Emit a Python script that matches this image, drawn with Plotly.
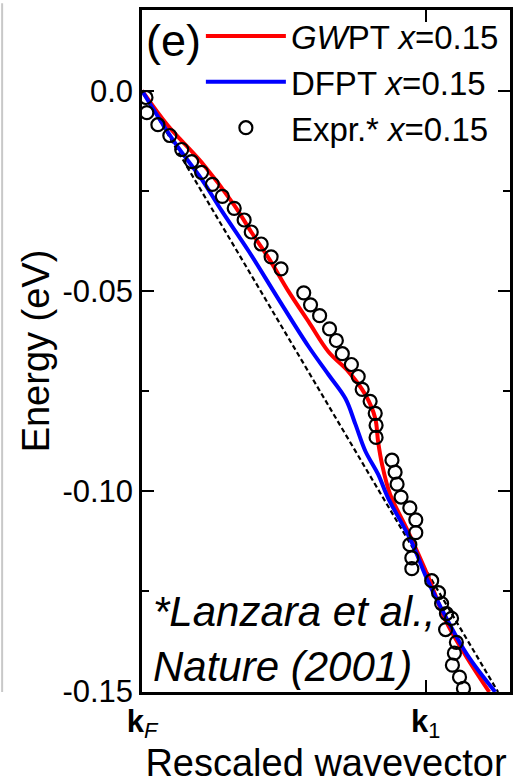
import plotly.graph_objects as go

# ---- data (x: rescaled wavevector, kF = 0, k1 = 1 ; y: energy in eV) ----
expr_x = [0.014, 0.017, 0.056, 0.098, 0.140, 0.175, 0.210, 0.248, 0.283, 0.325,
          0.360, 0.385, 0.420, 0.455, 0.490, 0.570, 0.594, 0.626, 0.661, 0.685,
          0.706, 0.738, 0.762, 0.776, 0.804, 0.822, 0.825, 0.825, 0.881, 0.892,
          0.899, 0.913, 0.944, 0.965, 0.965, 0.944, 0.951, 0.951, 1.021, 1.045,
          1.056, 1.073, 1.091, 1.070, 1.108, 1.101, 1.094, 1.119, 1.133]
expr_y = [-0.0017, -0.0055, -0.0085, -0.0112, -0.0147, -0.0177, -0.0204, -0.0234, -0.0264, -0.0294,
          -0.0323, -0.0353, -0.0383, -0.0415, -0.0445, -0.0505, -0.0535, -0.0562, -0.0595, -0.0624,
          -0.0657, -0.0684, -0.0714, -0.0746, -0.0776, -0.0806, -0.0836, -0.0866, -0.0923, -0.0953,
          -0.0983, -0.1015, -0.1042, -0.1072, -0.1104, -0.1134, -0.1167, -0.1194, -0.1224, -0.1254,
          -0.1281, -0.1306, -0.1318, -0.1346, -0.1378, -0.1405, -0.1435, -0.1465, -0.1493]

gwpt_x = [0.0, 0.091, 0.210, 0.325, 0.385, 0.448, 0.517, 0.587, 0.657, 0.727,
          0.787, 0.822, 0.832, 0.846, 0.874, 0.937, 1.007, 1.070, 1.140, 1.224]
gwpt_y = [0.0, -0.0087, -0.0179, -0.0286, -0.0353, -0.0420, -0.0502, -0.0577, -0.0652, -0.0701,
          -0.0759, -0.0818, -0.0876, -0.0933, -0.1007, -0.1100, -0.1211, -0.1323, -0.1410, -0.1502]

dfpt_x = [0.0, 0.115, 0.210, 0.280, 0.378, 0.476, 0.587, 0.657, 0.717, 0.752,
          0.787, 0.832, 0.867, 0.948, 1.007, 1.077, 1.147, 1.245]
dfpt_y = [0.0, -0.0129, -0.0221, -0.0299, -0.0403, -0.0515, -0.0639, -0.0709, -0.0769, -0.0833,
          -0.0900, -0.0958, -0.1017, -0.1124, -0.1224, -0.1323, -0.1410, -0.1502]

bare_x = [0.0, 1.255]
bare_y = [0.0, -0.1502]

ytick_vals = [0.0, -0.05, -0.10, -0.15]
ytick_text = ["0.0", "-0.05", "-0.10", "-0.15"]
yminor_vals = [-0.025, -0.075, -0.125]
xtick_vals = [0.0, 1.0]
xtick_text = ["<b>k</b><sub><i>F</i></sub>", "<b>k</b><sub>1</sub>"]

FONT = "Liberation Sans, Arial, sans-serif"

fig = go.Figure()
fig.add_trace(go.Scatter(x=bare_x, y=bare_y, mode="lines", showlegend=False,
                         line=dict(color="black", width=2.2, dash="5px,3px")))
fig.add_trace(go.Scatter(x=gwpt_x, y=gwpt_y, mode="lines", line_shape="spline",
                         name="<i>GW</i>PT <i>x</i>=0.15",
                         line=dict(color="#ff0000", width=4)))
fig.add_trace(go.Scatter(x=dfpt_x, y=dfpt_y, mode="lines", line_shape="spline",
                         name="DFPT <i>x</i>=0.15",
                         line=dict(color="#0000ff", width=4)))
fig.add_trace(go.Scatter(x=expr_x, y=expr_y, mode="markers",
                         name="Expr.* <i>x</i>=0.15",
                         marker=dict(symbol="circle-open", size=13, color="black",
                                     line=dict(width=2.2, color="black"))))

fig.add_annotation(text="(e)", xref="paper", yref="paper", x=0.005, y=0.995,
                   xanchor="left", yanchor="top", showarrow=False,
                   font=dict(size=45, color="black", family=FONT))
fig.add_annotation(text="<i>*Lanzara et al.,</i><br><i>Nature (2001)</i>",
                   xref="paper", yref="paper", x=0.025, y=0.0, align="left",
                   xanchor="left", yanchor="bottom", showarrow=False,
                   font=dict(size=42, color="black", family=FONT))

# neighbouring-panel edge visible at far left of the crop
fig.add_shape(type="line", xref="paper", yref="paper",
              x0=-141/371, x1=-141/371, y0=0.0, y1=1.01,
              line=dict(color="#c8c8c8", width=2))

axis_common = dict(showline=True, linecolor="black", linewidth=2.5, mirror="allticks",
                   ticks="inside", tickcolor="black", tickwidth=2.2, ticklen=12,
                   showgrid=False, zeroline=False,
                   tickfont=dict(size=31, color="black", family=FONT))

fig.update_xaxes(range=[0, 1.297], tickmode="array", tickvals=xtick_vals, ticktext=xtick_text,
                 title=dict(text="Rescaled wavevector", font=dict(size=38, color="black", family=FONT),
                            standoff=2),
                 **axis_common)
fig.update_yaxes(range=[-0.1502, 0.02015], tickmode="array", tickvals=ytick_vals, ticktext=ytick_text,
                 minor=dict(tickmode="array", tickvals=yminor_vals, ticks="inside", ticklen=7,
                            tickwidth=2.2, tickcolor="black"),
                 title=dict(text="Energy (eV)", font=dict(size=38, color="black", family=FONT),
                            standoff=2),
                 **axis_common)

fig.update_layout(
    width=520, height=784,
    margin=dict(l=142, r=7, t=7, b=92),
    paper_bgcolor="white", plot_bgcolor="white",
    font=dict(family=FONT, color="black"),
    legend=dict(x=0.16, y=1.003, xanchor="left", yanchor="top",
                bgcolor="rgba(0,0,0,0)", borderwidth=0,
                font=dict(size=33, color="black", family=FONT),
                itemwidth=80, tracegroupgap=0),
)

fig.write_html("out.html")
